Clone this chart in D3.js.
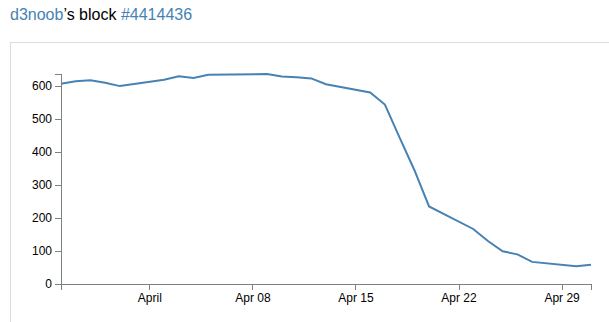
<!DOCTYPE html>
<meta charset="utf-8">
<style>
body { margin: 0; background: #fff; font: 12px Arial, "Liberation Sans", sans-serif; }
.head { font: 16px Arial, "Liberation Sans", sans-serif; }
.head .lnk { fill: steelblue; }
.axis path, .axis line { fill: none; stroke: grey; stroke-width: 1; shape-rendering: crispEdges; }
.axis text { font: 12px Arial, "Liberation Sans", sans-serif; fill: #000; }
.line { fill: none; stroke: steelblue; stroke-width: 2; }
</style>
<body>
<script src="https://cdn.jsdelivr.net/npm/d3@7"></script>
<script>
// the classic data.csv, newest first as in the file
const dates = ["1-May-12","30-Apr-12","27-Apr-12","26-Apr-12","25-Apr-12","24-Apr-12","23-Apr-12",
  "20-Apr-12","19-Apr-12","18-Apr-12","17-Apr-12","16-Apr-12","13-Apr-12","12-Apr-12","11-Apr-12",
  "10-Apr-12","9-Apr-12","5-Apr-12","4-Apr-12","3-Apr-12","2-Apr-12","30-Mar-12","29-Mar-12",
  "28-Mar-12","27-Mar-12","26-Mar-12"];
const closes = [58.13,53.98,67.00,89.70,99.00,130.28,166.70,234.98,345.44,443.34,543.70,580.13,
  605.23,622.77,626.20,628.44,636.23,633.68,624.31,629.32,618.63,599.55,609.86,617.62,614.48,606.98];

let margin = {top: 74, left: 61},
    width = 530,
    height = 210;

let parseDate = d3.timeParse("%d-%b-%y");
let data = dates.map((d, i) => ({date: parseDate(d), close: closes[i]}));

let svg = d3.select("body").append("svg")
  .attr("width", 609)
  .attr("height", 322);

// page header, like the bl.ocks page
let head = svg.append("text")
  .attr("class", "head")
  .attr("x", 10)
  .attr("y", 20);
head.append("tspan").attr("class", "lnk").text("d3noob");
head.append("tspan").text("\u2019s block ");
head.append("tspan").attr("class", "lnk").text("#4414436");

// iframe frame
svg.append("rect")
  .attr("x", 10.5)
  .attr("y", 42.5)
  .attr("width", 700)
  .attr("height", 400)
  .attr("fill", "none")
  .attr("stroke", "#dcdcdc");

let g = svg.append("g")
  .attr("transform", "translate(" + margin.left + "," + margin.top + ")");

let x = d3.scaleTime().range([0, width]);
let y = d3.scaleLinear().range([height, 0]);

x.domain(d3.extent(data, d => d.date));
y.domain([0, d3.max(data, d => d.close)]);

let valueline = d3.line()
  .x(d => x(d.date))
  .y(d => y(d.close));

g.append("path")
  .attr("class", "line")
  .attr("d", valueline(data));

g.append("g")
  .attr("class", "axis")
  .attr("transform", "translate(0," + height + ")")
  .call(d3.axisBottom(x).ticks(5));

g.append("g")
  .attr("class", "axis")
  .call(d3.axisLeft(y).ticks(6));
</script>
